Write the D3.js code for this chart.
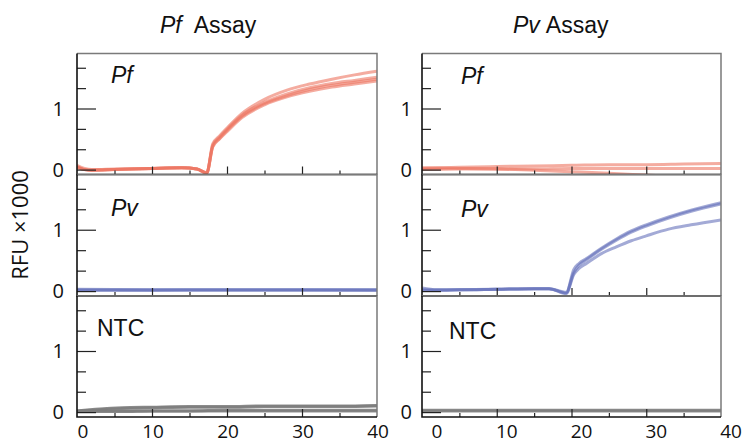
<!DOCTYPE html>
<html>
<head>
<meta charset="utf-8">
<script src="https://cdn.jsdelivr.net/npm/d3@7"></script>
<style>
  body { margin: 0; background: #fff; }
  svg { display: block; }
</style>
</head>
<body>
<div id="viz"></div>
<script>
// Datos (RFU x1000 por ciclo)
let ensayos = ['Pf', 'Pv'];
let muestras = ['Pf', 'Pv', 'NTC'];
let ticksX = [0, 10, 20, 30, 40];
let ticksY = [0, 1];

// Ensayo Pf, muestra Pf
let ciclosPfPf = [0, 1, 2, 5, 10, 14, 16, 17.3, 18.1, 19, 20, 22, 25, 28, 31, 34, 37, 40];
let pfPf1 = [0.07, 0.02, 0.00, 0.01, 0.02, 0.03, 0.01, -0.05, 0.42, 0.55, 0.68, 0.92, 1.15, 1.30, 1.40, 1.48, 1.55, 1.61];
let pfPf2 = [0.05, 0.00, -0.01, 0.00, 0.02, 0.03, 0.01, -0.06, 0.40, 0.53, 0.66, 0.89, 1.10, 1.24, 1.34, 1.41, 1.46, 1.51];
let pfPf3 = [0.03, 0.00, -0.01, 0.00, 0.02, 0.03, 0.01, -0.06, 0.38, 0.51, 0.64, 0.87, 1.08, 1.21, 1.31, 1.38, 1.43, 1.48];
let pfPf4 = [0.04, 0.00, -0.01, 0.00, 0.02, 0.03, 0.01, -0.05, 0.37, 0.50, 0.62, 0.85, 1.06, 1.19, 1.28, 1.35, 1.40, 1.45];

// Ensayo Pf, muestra Pv
let ciclosPfPv = [0, 10, 20, 30, 40];
let pfPv1 = [0.02, 0.02, 0.02, 0.02, 0.02];
let pfPv2 = [0.01, 0.01, 0.015, 0.015, 0.01];
let pfPv3 = [0.03, 0.02, 0.02, 0.02, 0.02];

// Ensayo Pf, NTC
let ciclosPfNtc = [0, 3, 6, 10, 15, 20, 25, 30, 35, 40];
let pfNtc1 = [0.02, 0.05, 0.07, 0.08, 0.09, 0.09, 0.10, 0.10, 0.10, 0.11];
let pfNtc2 = [0.02, 0.04, 0.06, 0.07, 0.08, 0.08, 0.09, 0.09, 0.09, 0.10];
let pfNtc3 = [0.01, 0.02, 0.02, 0.02, 0.02, 0.03, 0.03, 0.03, 0.03, 0.03];
let pfNtc4 = [0.01, 0.01, 0.01, 0.02, 0.02, 0.02, 0.02, 0.02, 0.02, 0.02];

// Ensayo Pv, muestra Pf
let ciclosPvPf = [0, 5, 10, 15, 20, 25, 30, 35, 40];
let pvPf1 = [0.02, 0.04, 0.05, 0.06, 0.07, 0.08, 0.08, 0.09, 0.10];
let pvPf2 = [0.00, 0.01, 0.01, 0.01, 0.02, 0.02, 0.02, 0.02, 0.02];
let pvPf3 = [0.03, 0.02, 0.01, -0.01, -0.035, -0.06, -0.09, -0.12, -0.15];

// Ensayo Pv, muestra Pv
let ciclosPvPv = [0, 2, 5, 10, 15, 17, 19.3, 20.3, 21, 22, 24, 26, 28, 30, 33, 36, 40];
let pvPv1 = [0.05, 0.02, 0.02, 0.03, 0.04, 0.04, -0.03, 0.35, 0.45, 0.53, 0.70, 0.85, 0.98, 1.08, 1.21, 1.32, 1.44];
let pvPv2 = [0.01, 0.01, 0.02, 0.03, 0.04, 0.04, -0.02, 0.30, 0.42, 0.51, 0.68, 0.83, 0.96, 1.06, 1.19, 1.30, 1.42];
let pvPv3 = [0.02, 0.02, 0.02, 0.03, 0.04, 0.04, -0.04, 0.27, 0.37, 0.45, 0.61, 0.72, 0.82, 0.90, 1.01, 1.08, 1.16];

// Ensayo Pv, NTC
let ciclosPvNtc = [0, 10, 20, 30, 40];
let pvNtc1 = [0.03, 0.03, 0.03, 0.03, 0.03];
let pvNtc2 = [0.02, 0.02, 0.02, 0.02, 0.02];

let colores = { 'Pf': '#ec7560', 'Pv': '#6672bb', 'NTC': '#7c7c7c' };

// Paneles: [columna][fila]
let paneles = [
    [ { ciclos: ciclosPfPf, series: [pfPf1, pfPf2, pfPf3, pfPf4] },
      { ciclos: ciclosPfPv, series: [pfPv1, pfPv2, pfPv3] },
      { ciclos: ciclosPfNtc, series: [pfNtc1, pfNtc2, pfNtc3, pfNtc4] } ],
    [ { ciclos: ciclosPvPf, series: [pvPf1, pvPf2, pvPf3] },
      { ciclos: ciclosPvPv, series: [pvPv1, pvPv2, pvPv3] },
      { ciclos: ciclosPvNtc, series: [pvNtc1, pvNtc2] } ]
];

let w = 747;
let h = 443;
let colX = [[77, 377], [422, 721]];
let filaY = [53.5, 174.5, 296, 417];

let svg = d3.select('#viz')
    .append('svg')
        .attr('width', w)
        .attr('height', h);

let fuente = "'Liberation Sans', Arial, sans-serif";
let fuenteNum = "'Open Sans', sans-serif";

paneles.forEach(function(col, c) {
    let x = d3.scaleLinear()
        .domain([0, 40])
        .range(colX[c]);

    col.forEach(function(panel, f) {
        let y = d3.scaleLinear()
            .domain([-0.08, 1.9])
            .range([filaY[f + 1], filaY[f]]);

        let g = svg.append('g');
        let idClip = `clip-${c}-${f}`;
        g.append('clipPath')
            .attr('id', idClip)
            .append('rect')
                .attr('x', colX[c][0])
                .attr('y', filaY[f])
                .attr('width', colX[c][1] - colX[c][0])
                .attr('height', filaY[f + 1] - filaY[f]);

        // Curvas
        let linea = d3.line()
            .x(function(d) { return x(d[0]); })
            .y(function(d) { return y(d[1]); })
            .curve(d3.curveMonotoneX);

        g.append('g')
            .attr('clip-path', `url(#${idClip})`)
            .selectAll('path')
            .data(panel.series)
            .enter()
            .append('path')
                .attr('d', function(s) { return linea(s.map((v, i) => [panel.ciclos[i], v])); })
                .attr('fill', 'none')
                .attr('stroke', colores[muestras[f]])
                .attr('stroke-width', 3)
                .attr('stroke-opacity', f == 2 ? 0.85 : 0.6)
                .attr('stroke-linejoin', 'round');

        // Marco superior y derecho
        g.append('path')
            .attr('d', `M${colX[c][0]},${filaY[f]}H${colX[c][1]}V${filaY[f + 1]}`)
            .attr('fill', 'none')
            .attr('stroke', '#7a7a7a')
            .attr('stroke-width', 1.5);

        // Eje Y (ticks hacia adentro)
        let ejeYMenor = d3.axisRight(y)
            .tickValues([1/3, 2/3, 4/3, 5/3])
            .tickSize(9)
            .tickFormat('');
        g.append('g')
            .attr('transform', `translate(${colX[c][0]},0)`)
            .call(ejeYMenor)
            .call(a => a.select('.domain').remove())
            .selectAll('line').attr('stroke', '#222').attr('stroke-width', 1.2);

        let ejeY = d3.axisRight(y)
            .tickValues(ticksY)
            .tickSize(19)
            .tickFormat('');
        g.append('g')
            .attr('transform', `translate(${colX[c][0]},0)`)
            .call(ejeY)
            .call(a => a.select('.domain').remove())
            .selectAll('line').attr('stroke', '#222').attr('stroke-width', 1.2);

        g.selectAll('.lblY')
            .data(ticksY)
            .enter()
            .append('text')
                .attr('x', colX[c][0] - (c == 0 ? 13 : 10))
                .attr('y', d => y(d))
                .attr('dy', '0.36em')
                .attr('text-anchor', 'end')
                .style('font-family', fuenteNum)
                .style('font-size', '20px')
                .attr('fill', '#111')
                .text(d => d);

        // Eje X (ticks hacia arriba)
        let ejeXMenor = d3.axisTop(x)
            .tickValues([5, 15, 25, 35])
            .tickSize(4)
            .tickFormat('');
        g.append('g')
            .attr('transform', `translate(0,${filaY[f + 1]})`)
            .call(ejeXMenor)
            .call(a => a.select('.domain').remove())
            .selectAll('line').attr('stroke', '#222').attr('stroke-width', 1.2);

        let ejeX = d3.axisTop(x)
            .tickValues([10, 20, 30])
            .tickSize(8)
            .tickFormat('');
        g.append('g')
            .attr('transform', `translate(0,${filaY[f + 1]})`)
            .call(ejeX)
            .call(a => a.select('.domain').remove())
            .selectAll('line').attr('stroke', '#222').attr('stroke-width', 1.2);

        // Líneas de eje izquierda e inferior
        g.append('path')
            .attr('d', `M${colX[c][0]},${filaY[f]}V${filaY[f + 1]}H${colX[c][1]}`)
            .attr('fill', 'none')
            .attr('stroke', '#111')
            .attr('stroke-width', 1.6);

        // Etiqueta de la muestra
        let esNtc = muestras[f] == 'NTC';
        g.append('text')
            .attr('x', colX[c][0] + (esNtc ? (c == 0 ? 20 : 27) : (c == 0 ? 34 : 39)))
            .attr('y', filaY[f] + (esNtc ? (c == 0 ? 40 : 43) : (c == 0 ? 29 : 30)) + (f == 1 ? 12 : 0))
            .style('font-family', fuente)
            .style('font-size', '23px')
            .style('font-style', esNtc ? 'normal' : 'italic')
            .attr('fill', '#111')
            .text(muestras[f]);

        // Etiquetas del eje X solo en la última fila
        if (f == 2) {
            g.selectAll('.lblX')
                .data(ticksX)
                .enter()
                .append('text')
                    .attr('x', d => x(d) + (d == 0 ? 6 : 1) + (c == 0 ? 0 : 9))
                    .attr('y', 437.5)
                    .attr('text-anchor', 'middle')
                    .style('font-family', fuenteNum)
                    .style('font-size', '19px')
                    .attr('fill', '#111')
                    .text(d => d);
        }
    });

    // Título del ensayo
    let titulo = svg.append('text')
        .attr('x', c == 0 ? 160 : 513)
        .attr('y', 33)
        .style('font-family', fuente)
        .style('font-size', '23px')
        .attr('fill', '#111');
    titulo.append('tspan')
        .style('font-style', 'italic')
        .text(ensayos[c]);
    titulo.append('tspan')
        .attr('dx', c == 0 ? 12 : 6)
        .text('Assay');
});

// Etiqueta del eje Y
svg.append('text')
    .attr('transform', 'translate(28,225) rotate(-90)')
    .attr('text-anchor', 'middle')
    .style('font-family', fuenteNum)
    .style('font-size', '22px')
    .attr('fill', '#111')
    .text('RFU ×1000');
</script>
</body>
</html>
